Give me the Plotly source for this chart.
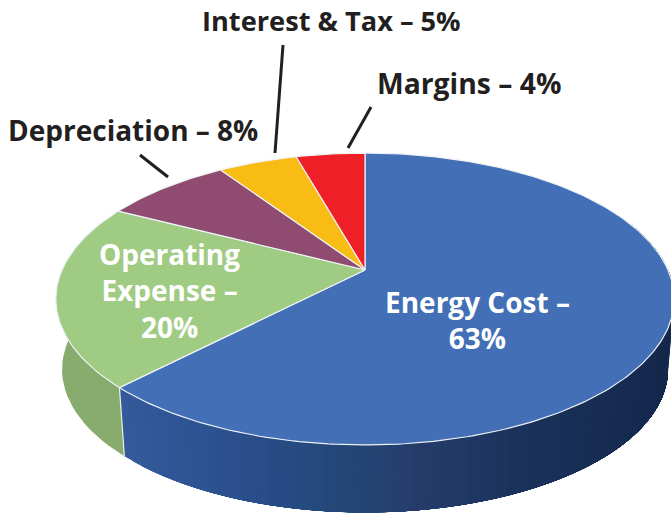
import numpy as np
import plotly.graph_objects as go

categories = ["Energy Cost", "Operating Expense", "Depreciation", "Interest & Tax", "Margins"]
values = [63, 20, 8, 5, 4]
face_colors = ["#426fb6", "#a0cb82", "#904c70", "#f9bc15", "#ee1f26"]
wall_colors = [
    [(0.0, "#345a9c"), (0.2, "#2a4f8c"), (0.4, "#234677"), (0.52, "#263d6c"), (0.7, "#1b335d"), (1.0, "#14284b")],
    [(0.0, "#86a96c"), (1.0, "#8aae70")],
]
wall_label_text = [
    ("Interest &amp; Tax – 5%", 331, 20, "#231f20", 27.2),
    ("Margins – 4%", 469, 83, "#231f20", 28.3),
    ("Depreciation – 8%", 133, 130, "#231f20", 28),
    ("Operating<br>Expense –<br>20%", 169, 290, "#ffffff", 28),
    ("Energy Cost –<br>63%", 477, 319.5, "#ffffff", 28),
]
leaders = [((283, 45), (275, 153)), ((371, 107), (348, 148)), ((140, 155), (168, 177))]

# projection of the pie disc
APEX_X, APEX_Y = 365, 270
K, A, B = 0.1986, 140.2, 303.0
EDGE_LAG = [0, 2.8, 1.5, 1.3, 1.3, 0]  # degrees the drawn slice edges sit back from true
WALL_SCALE, WALL_DROP = 0.98, 71


def rim(theta_deg, bottom=False):
    t = np.radians(np.asarray(theta_deg, dtype=float))
    u, v = np.sin(t), np.cos(t)
    w = 1 + K * v
    x, y = B * u / w, -A * v / w
    if bottom:
        return APEX_X + WALL_SCALE * x, APEX_Y + WALL_SCALE * y + WALL_DROP
    return APEX_X + x, APEX_Y + y


def hex_rgb(h):
    return np.array([int(h[i:i + 2], 16) for i in (1, 3, 5)], dtype=float)


def ramp(stops, f):
    for (f0, c0), (f1, c1) in zip(stops, stops[1:]):
        if f <= f1:
            m = (f - f0) / (f1 - f0) if f1 > f0 else 0
            c = hex_rgb(c0) * (1 - m) + hex_rgb(c1) * m
            return "rgb(%d,%d,%d)" % tuple(c)
    return stops[-1][1]


fig = go.Figure()
edges = np.concatenate([[0], np.cumsum(values)]) * 3.6 - np.array(EDGE_LAG)


def add_poly(x, y, fill, line, width):
    fig.add_trace(go.Scatter(x=x, y=y, mode="lines", fill="toself", fillcolor=fill,
                             line=dict(color=line, width=width), hoverinfo="skip", showlegend=False))


# side wall: nested polygons painted from the left end so no seams appear
blue_start, blue_end = 70.0, edges[1]
grid = np.linspace(blue_end, blue_start, 70)
for i in range(len(grid) - 1):
    a = np.linspace(grid[i], blue_start, 60)
    xt, yt = rim(a)
    xb, yb = rim(a, True)
    xmid = (float(xt[0]) - 125) / (671 - 125)
    c = ramp(wall_colors[0], float(np.clip(xmid, 0, 1)))
    add_poly(np.r_[xt, xb[::-1], xt[0]], np.r_[yt, yb[::-1], yt[0]], c, c, 0)

green = np.linspace(edges[1], 275, 24)
xt, yt = rim(green)
xb, yb = rim(green, True)
add_poly(np.r_[xt, xb[::-1], xt[0]], np.r_[yt, yb[::-1], yt[0]], "#88ab6e", "#88ab6e", 0)
x0, y0 = rim(edges[1])
x1, y1 = rim(edges[1], True)
fig.add_trace(go.Scatter(x=[float(x0), float(x1)], y=[float(y0), float(y1)], mode="lines",
                         line=dict(color="#e8efe0", width=1.2), hoverinfo="skip", showlegend=False))

# top faces
for i, name in enumerate(categories):
    a = np.linspace(edges[i], edges[i + 1], max(3, int(values[i] * 4)))
    x, y = rim(a)
    add_poly(np.r_[APEX_X, x, APEX_X], np.r_[APEX_Y, y, APEX_Y], face_colors[i], "#eef2f6", 1.2)

for (p, q) in leaders:
    fig.add_shape(type="line", x0=p[0], y0=p[1], x1=q[0], y1=q[1], line=dict(color="#231f20", width=3))

for text, x, y, col, size in wall_label_text:
    fig.add_annotation(x=x, y=y, text=text, showarrow=False, xanchor="center", yanchor="middle",
                       font=dict(family="Open Sans", size=size, color=col, weight=700), align="center")

fig.update_layout(
    width=671, height=514, margin=dict(l=0, r=0, t=0, b=0),
    paper_bgcolor="white", plot_bgcolor="white", showlegend=False,
    xaxis=dict(range=[0, 671], visible=False, fixedrange=True),
    yaxis=dict(range=[514, 0], visible=False, fixedrange=True),
)
fig.write_html("out.html", config={"displayModeBar": False},
               post_script="document.body.style.margin='0';document.documentElement.style.overflow='hidden';")
